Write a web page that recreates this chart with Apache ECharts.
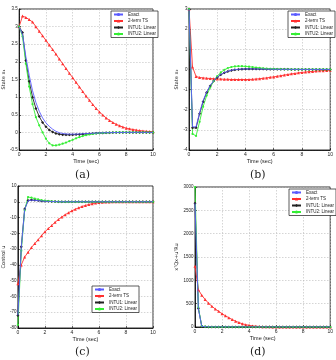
<!DOCTYPE html>
<html><head><meta charset="utf-8">
<script src="https://cdn.jsdelivr.net/npm/echarts@6/dist/echarts.min.js"></script>
<style>html,body{margin:0;padding:0;background:#fff}#c{width:336px;height:360px}</style>
</head><body><div id="c"></div>
<script>
const time = [0,0.25,0.5,0.75,1,1.25,1.5,1.75,2,2.25,2.5,2.75,3,3.25,3.5,3.75,4,4.25,4.5,4.75,5,5.25,5.5,5.75,6,6.25,6.5,6.75,7,7.25,7.5,7.75,8,8.25,8.5,8.75,9,9.25,9.5,9.75,10];
const names = ['Exact','2-term TS','INTU1: Linear','INTU2: Linear'];

// (a) state x1
const exactA = [3.00,2.78,2.15,1.62,1.18,0.85,0.60,0.41,0.27,0.17,0.09,0.03,-0.01,-0.03,-0.045,-0.05,-0.05,-0.05,-0.045,-0.04,-0.035,-0.03,-0.025,-0.02,-0.016,-0.012,-0.009,-0.007,-0.005,-0.004,-0.003,-0.002,-0.002,-0.001,-0.001,0,0,0,0,0,0];
const tsA = [3.00,3.30,3.26,3.20,3.13,3.00,2.87,2.74,2.61,2.48,2.35,2.22,2.08,1.95,1.81,1.68,1.55,1.42,1.29,1.16,1.03,0.91,0.79,0.68,0.58,0.49,0.41,0.34,0.28,0.23,0.19,0.15,0.12,0.10,0.08,0.065,0.05,0.04,0.03,0.025,0.02];
const intu1A = [3.00,2.83,2.04,1.45,1.00,0.68,0.45,0.28,0.16,0.07,0.01,-0.03,-0.05,-0.065,-0.07,-0.07,-0.068,-0.063,-0.057,-0.05,-0.043,-0.036,-0.03,-0.024,-0.019,-0.015,-0.011,-0.008,-0.006,-0.004,-0.003,-0.002,-0.001,-0.001,0,0,0,0,0,0,0];
const intu2A = [3.00,2.72,1.95,1.30,0.80,0.43,0.20,0.00,-0.18,-0.31,-0.37,-0.37,-0.35,-0.32,-0.29,-0.25,-0.21,-0.17,-0.135,-0.105,-0.08,-0.06,-0.045,-0.032,-0.022,-0.015,-0.01,-0.006,-0.004,-0.002,-0.001,-0.001,0,0,0,0,0,0,0,0,0];

// (b) state x2
const exactB = [3,-2.85,-2.85,-2.15,-1.55,-1.12,-0.8,-0.56,-0.38,-0.25,-0.16,-0.09,-0.04,-0.01,0.01,0.02,0.025,0.025,0.024,0.022,0.02,0.017,0.014,0.012,0.01,0.008,0.006,0.005,0.004,0.003,0.002,0.002,0.001,0.001,0.001,0,0,0,0,0,0];
const tsB = [3,0.12,-0.35,-0.40,-0.42,-0.44,-0.45,-0.46,-0.47,-0.48,-0.49,-0.49,-0.5,-0.5,-0.5,-0.5,-0.5,-0.5,-0.49,-0.48,-0.46,-0.44,-0.42,-0.39,-0.37,-0.34,-0.31,-0.28,-0.25,-0.22,-0.2,-0.17,-0.15,-0.13,-0.11,-0.1,-0.08,-0.07,-0.06,-0.05,-0.04];
const intu1B = [3,-2.9,-2.9,-2.2,-1.6,-1.15,-0.82,-0.58,-0.4,-0.26,-0.17,-0.1,-0.05,-0.02,0,0.015,0.02,0.022,0.022,0.02,0.018,0.016,0.013,0.011,0.009,0.007,0.005,0.004,0.003,0.002,0.002,0.001,0.001,0.001,0,0,0,0,0,0,0];
const intu2B = [3,-3.2,-3.3,-2.6,-1.85,-1.3,-0.9,-0.58,-0.33,-0.15,-0.02,0.07,0.12,0.15,0.16,0.16,0.15,0.135,0.115,0.095,0.075,0.058,0.044,0.032,0.023,0.016,0.011,0.007,0.004,0.002,0.001,0.001,0,0,0,0,0,0,0,0,0];

// (c) control u
const exactC = [-72,-29,-5,0.6,1.0,0.9,0.7,0.5,0.35,0.25,0.15,0.1,0.05,0.02,0,0,0,0,0,0,0,0,0,0,0,0,0,0,0,0,0,0,0,0,0,0,0,0,0,0,0];
const tsC = [-52,-40,-35,-32,-29,-26.5,-24,-21.5,-19,-17,-15,-13,-11.2,-9.6,-8.2,-6.9,-5.7,-4.7,-3.8,-3.0,-2.3,-1.7,-1.2,-0.8,-0.5,-0.3,-0.2,-0.1,-0.05,0,0,0,0,0,0,0,0,0,0,0,0];
const intu1C = [-72,-28.5,-4.5,0.8,1.1,0.95,0.75,0.55,0.38,0.26,0.17,0.1,0.06,0.03,0.01,0,0,0,0,0,0,0,0,0,0,0,0,0,0,0,0,0,0,0,0,0,0,0,0,0,0];
const intu2C = [-78,-31,-5.5,3.0,2.6,2.0,1.5,1.0,0.7,0.45,0.28,0.15,0.07,0.02,-0.02,-0.04,-0.05,-0.05,-0.05,-0.05,-0.04,-0.03,-0.02,-0.01,0,0,0,0,0,0,0,0,0,0,0,0,0,0,0,0,0];

// (d) cost x'Qx + u'Ru
const exactD = [2650,390,15,5,3,0,0,0,0,0,0,0,0,0,0,0,0,0,0,0,0,0,0,0,0,0,0,0,0,0,0,0,0,0,0,0,0,0,0,0,0];
const tsD = [1300,800,680,590,510,445,385,335,285,240,200,160,125,95,70,50,35,24,16,11,7,5,3,2,1,0,0,0,0,0,0,0,0,0,0,0,0,0,0,0,0];
const intu1D = [2650,395,14,4,2,0,0,0,0,0,0,0,0,0,0,0,0,0,0,0,0,0,0,0,0,0,0,0,0,0,0,0,0,0,0,0,0,0,0,0,0];
const intu2D = [3000,420,18,6,3,0,0,0,0,0,0,0,0,0,0,0,0,0,0,0,0,0,0,0,0,0,0,0,0,0,0,0,0,0,0,0,0,0,0,0,0];

const yTitles = ['State x\u2081','State x\u2082','Control u','x\u1D40Qx+u\u1D40Ru'];
const yRanges = [[-0.5,3.5,0.5],[-4,3,1],[-80,10,10],[0,3000,500]];
const captions = ['(a)','(b)','(c)','(d)'];

const grids = [
  {left:13, top:9, width:140, height:141},
  {left:189, top:9, width:143, height:141},
  {left:13, top:186, width:140, height:142},
  {left:195, top:187, width:137, height:140}
];
const legendPos = [
  {left:111, top:11},{left:288, top:11},{left:92, top:286},{left:289, top:189}
];
const capPos = [[83,170],[258,170],[83,347],[258,347]];

const colors = ['#5a5aff','#ff3030','#222222','#33ee33'];
const symbols = ['none','triangle','diamond','circle'];
const sets = [[exactA,tsA,intu1A,intu2A],[exactB,tsB,intu1B,intu2B],[exactC,tsC,intu1C,intu2C],[exactD,tsD,intu1D,intu2D]];

const splitStyle = {show:true, lineStyle:{color:'#b8b8b8', type:[1.5,1.5], width:0.6}};
const xAxis = [], yAxis = [], series = [], legend = [], graphic = [];
grids.forEach((g,i)=>{
  g.show = true; g.borderColor = '#000'; g.borderWidth = 0.8; g.backgroundColor='#fff';
  xAxis.push({type:'value', gridIndex:i, min:0, max:10, interval:2,
    name:'Time (sec)', nameLocation:'middle', nameGap:8,
    nameTextStyle:{fontSize:5.5, color:'#222', fontFamily:'Liberation Sans'},
    axisLine:{onZero:false, lineStyle:{color:'#000', width:0.8}},
    axisTick:{inside:true, length:2, lineStyle:{color:'#000', width:0.6}},
    axisLabel:{fontSize:5, margin:2, color:'#222', fontFamily:'Liberation Sans'},
    splitLine:splitStyle});
  const r = yRanges[i];
  yAxis.push({type:'value', gridIndex:i, min:r[0], max:r[1], interval:r[2],
    name:yTitles[i], nameLocation:'middle', nameGap: i===3?12:8,
    nameTextStyle:{fontSize:5, color:'#222', fontFamily:'DejaVu Sans'},
    axisLine:{onZero:false, lineStyle:{color:'#000', width:0.8}},
    axisTick:{inside:true, length:2, lineStyle:{color:'#000', width:0.6}},
    axisLabel:{fontSize:4.5, margin:1.5, color:'#222', fontFamily:'Liberation Sans', formatter:v=>String(v)},
    splitLine:splitStyle});
  sets[i].forEach((vals,k)=>{
    series.push({type:'line', name:names[k], xAxisIndex:i, yAxisIndex:i,
      data: time.map((t,j)=>[t, vals[j]]),
      symbol: symbols[k], symbolSize: k===3?2.2:3, showSymbol: k!==0,
      itemStyle:{color:colors[k]}, lineStyle:{color:colors[k], width:0.9},
      animation:false, z: k===0?3:2});
  });
  legend.push({data:names, orient:'vertical', left:legendPos[i].left, top:legendPos[i].top,
    itemWidth:9, itemHeight:4, itemGap:1.5, padding:[1,2,1,2],
    borderColor:'#333', borderWidth:0.8, backgroundColor:'#fff',
    textStyle:{fontSize:4.5, color:'#222', fontFamily:'Liberation Sans'}, selectedMode:false});
  graphic.push({type:'text', left:capPos[i][0]-8, top:capPos[i][1],
    style:{text:captions[i], fontSize:11, fontFamily:'DejaVu Serif', fill:'#222'}});
});

const chart = echarts.init(document.getElementById('c'), null, {renderer:'canvas'});
chart.setOption({animation:false, backgroundColor:'#fff', grid:grids, xAxis, yAxis, series, legend, graphic});
</script></body></html>
